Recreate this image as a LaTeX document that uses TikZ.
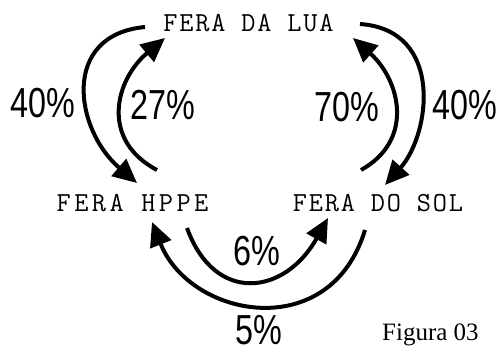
\documentclass[tikz,border=0pt]{standalone}
\usepackage{fontspec}
\usetikzlibrary{arrows.meta}
\newfontfamily\pctf[FakeStretch=0.77]{Liberation Sans}
\newfontfamily\serf{Liberation Serif}
\newfontfamily\monof[LetterSpace=6.5]{Latin Modern Mono}
\newfontfamily\monow[LetterSpace=12.5]{Latin Modern Mono}
\begin{document}
\begin{tikzpicture}[x=1pt,y=-1pt,
  lbl/.style={font=\monof\fontsize{27.5}{27.5}\selectfont, anchor=base, inner sep=0pt},
  pct/.style={font=\pctf\fontsize{42}{42}\selectfont, anchor=base, inner sep=0pt, text depth=0pt},
  arr/.style={line width=4pt, -{Triangle[length=24pt,width=22pt]}}]
\useasboundingbox (0,0) rectangle (500,347);
% labels
\node[lbl] (lua) at (248.5,32) {FERA DA LUA};
\node[lbl, font=\monow\fontsize{27.5}{27.5}\selectfont] (hppe) at (132.5,212) {FERA HPPE};
\node[lbl] (sol) at (378,212) {FERA DO SOL};
% percentages
\node[pct] (p40l) at (42.5,118) {40\%};
\node[pct] (p27) at (163,120) {27\%};
\node[pct] (p70) at (347,122) {70\%};
\node[pct] (p40r) at (465,120) {40\%};
\node[pct] (p6) at (257,265) {6\%};
\node[pct] (p5) at (258.5,344) {5\%};
\node[font=\serf\fontsize{25}{25}\selectfont, anchor=base west, inner sep=0pt] (fig) at (382,340) {Figura 03};
% connector ends
\coordinate (a1s) at (145,27);  \coordinate (a1e) at (137,183);
\coordinate (a2s) at (157,170); \coordinate (a2e) at (165,38);
\coordinate (a3s) at (360,24);  \coordinate (a3e) at (385,185);
\coordinate (a4s) at (361,170); \coordinate (a4e) at (353,38);
\coordinate (a5s) at (187,228); \coordinate (a5e) at (328,218);
\coordinate (a6s) at (365,230); \coordinate (a6e) at (152,222);
% arrows
\draw[arr] (a1s) .. controls (60,35) and (75,130) .. (a1e);
\draw[arr] (a2s) .. controls (100,140) and (115,80) .. (a2e);
\draw[arr] (a3s) .. controls (445,30) and (430,135) .. (a3e);
\draw[arr] (a4s) .. controls (415,140) and (400,80) .. (a4e);
\draw[arr] (a5s) .. controls (215,305) and (285,295) .. (a5e);
\draw[arr] (a6s) .. controls (330,345) and (190,318) .. (a6e);
\end{tikzpicture}
\end{document}
